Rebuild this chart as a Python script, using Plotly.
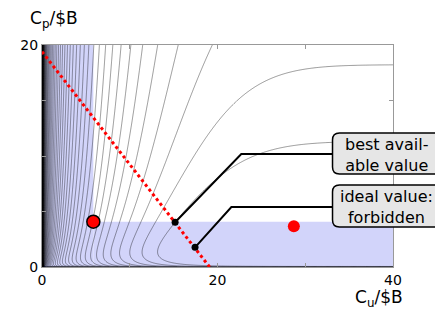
import numpy as np
import plotly.graph_objects as go

# ---------------- values ----------------
forbid_cu_max = 5.85          # Cu below this is forbidden (blue band)
forbid_cp_max = 4.08          # Cp below this is forbidden (blue band)
budget_cu = [0.0, 19.1]       # red dotted line end points
budget_cp = [19.4, 0.0]
corner_cu = [5.85]            # big red circle
corner_cp = [4.08]
red_cu = [28.7]               # small red dot
red_cp = [3.67]
best_cu = [15.17]             # "best available value"
best_cp = [4.03]
ideal_cu = [17.44]            # "ideal value: forbidden"
ideal_cp = [1.77]
x_tick_vals = [0, 10, 20, 30, 40]
x_tick_text = ["0", "", "20", "", "40"]
y_tick_vals = [0, 5, 10, 15, 20]
y_tick_text = ["0", "", "", "", "20"]
callout_text = ["best avail-<br>able value", "ideal value:<br>forbidden"]

# estimated parameters of the contoured surface
sat_scale = 13.7
sat_power = 2.0
near_zero_relief = 0.5
near_zero_scale = 2.5
cp_log_weight = 0.18
cp_decay = 0.285
cp_scale = 2.061
corner_scale = 6.0
level_step = 0.18
n_levels = 80


def surface(cu, cp):
    sig = np.tanh(cu / corner_scale)
    g = np.log(-np.expm1(-(cu / sat_scale) ** sat_power))
    g = g - near_zero_relief * np.log(np.tanh(cu / near_zero_scale))
    return g + cp_log_weight * np.log(cp) - cp_decay * np.log(sig ** 2 + (cp / cp_scale) ** 2)


cu_grid = np.unique(np.concatenate([np.geomspace(0.003, 2, 190), np.linspace(2, 40, 360)]))
cp_grid = np.unique(np.concatenate([np.geomspace(0.002, 1, 140), np.linspace(1, 20, 300)]))
CU, CP = np.meshgrid(cu_grid, cp_grid)
Z = surface(CU, CP)
top_level = float(surface(best_cu[0], best_cp[0]))

# ---------------- layout geometry ----------------
# pixel positions below are measured in the 443x310 reference; the page body
# has an 8px margin, so the figure itself is drawn 8px smaller and offset.
OFF = 8
W, H = 443 - OFF, 310 - OFF
L, R, T, B = 39, 393, 45, 267


def px(xp):
    return (xp - L) / (R - L)


def py(yp):
    return (B - yp) / (B - T)


def dx(xp):
    return (xp - L) / (R - L) * 40.0


def dy(yp):
    return (B - yp) / (B - T) * 20.0


font_family = "DejaVu Sans, Verdana, sans-serif"

fig = go.Figure()

fig.add_trace(go.Contour(
    x=cu_grid, y=cp_grid, z=Z,
    autocontour=False,
    contours=dict(coloring="none", start=top_level - n_levels * level_step,
                  end=top_level + level_step / 2, size=level_step),
    line=dict(color="black", width=0.4, smoothing=0.6),
    showscale=False, hoverinfo="skip",
))

fig.add_trace(go.Scatter(x=budget_cu, y=budget_cp, mode="lines",
                         line=dict(color="red", width=3, dash="3px,3px"),
                         hoverinfo="skip"))
fig.add_trace(go.Scatter(x=corner_cu, y=corner_cp, mode="markers",
                         marker=dict(color="red", size=13, line=dict(color="black", width=1.5))))
fig.add_trace(go.Scatter(x=red_cu, y=red_cp, mode="markers",
                         marker=dict(color="red", size=12, line=dict(width=0))))

shapes = [
    dict(type="rect", xref="x", yref="y", x0=0, x1=forbid_cu_max, y0=0, y1=20,
         fillcolor="rgb(210,212,250)", line=dict(width=0), layer="below"),
    dict(type="rect", xref="x", yref="y", x0=forbid_cu_max, x1=40, y0=0, y1=forbid_cp_max,
         fillcolor="rgb(210,212,250)", line=dict(width=0), layer="below"),
]

# leader lines from the two points to the call-out boxes
box_left = 332
leaders = [((best_cu[0], best_cp[0]), (240, 154)), ((ideal_cu[0], ideal_cp[0]), (230, 207))]
for (xs, ys), (ex, ey) in leaders:
    path = "M %f,%f L %f,%f L %f,%f" % (xs, ys, dx(ex), dy(ey), dx(box_left), dy(ey))
    shapes.append(dict(type="path", xref="x", yref="y", path=path,
                       line=dict(color="black", width=2), layer="above"))


def rounded_box(x0, y0, x1, y1, r):
    pts = [
        ("M", [(x0 + r, y0)]), ("L", [(x1 - r, y0)]), ("Q", [(x1, y0), (x1, y0 + r)]),
        ("L", [(x1, y1 - r)]), ("Q", [(x1, y1), (x1 - r, y1)]), ("L", [(x0 + r, y1)]),
        ("Q", [(x0, y1), (x0, y1 - r)]), ("L", [(x0, y0 + r)]), ("Q", [(x0, y0), (x0 + r, y0)]),
    ]
    s = ""
    for cmd, ps in pts:
        s += cmd + " " + " ".join("%f,%f" % (px(a), py(b)) for a, b in ps) + " "
    return s + "Z"


boxes = [(332, 133, 441.5, 174), (332, 185, 441.5, 227)]
for bx in boxes:
    shapes.append(dict(type="path", xref="paper", yref="paper", path=rounded_box(*bx, 7),
                       fillcolor="rgb(230,230,230)", line=dict(color="black", width=1.5),
                       layer="above"))

annotations = []
for (x0, y0, x1, y1), txt in zip(boxes, callout_text):
    annotations.append(dict(xref="paper", yref="paper", x=px((x0 + x1) / 2), y=py((y0 + y1) / 2 + 1),
                            text=txt, showarrow=False, xanchor="center", yanchor="middle",
                            font=dict(family=font_family, size=16, color="black")))

annotations.append(dict(xref="paper", yref="paper", x=px(51), y=py(19), text="C<sub>p</sub>/$B",
                        showarrow=False, xanchor="center", yanchor="middle",
                        font=dict(family=font_family, size=17, color="black")))
annotations.append(dict(xref="paper", yref="paper", x=px(379), y=py(298), text="C<sub>u</sub>/$B",
                        showarrow=False, xanchor="center", yanchor="middle",
                        font=dict(family=font_family, size=17, color="black")))

fig.add_trace(go.Scatter(x=best_cu + ideal_cu, y=best_cp + ideal_cp, mode="markers",
                         marker=dict(color="black", size=7)))

axis_common = dict(showgrid=False, zeroline=False, showline=True, linecolor="#999999",
                   linewidth=1, mirror="ticks", ticks="inside", ticklen=4, tickcolor="#999999",
                   tickfont=dict(family=font_family, size=14, color="black"))

fig.update_layout(
    width=W, height=H,
    margin=dict(l=L - OFF, r=443 - R, t=T - OFF, b=310 - B, pad=0),
    paper_bgcolor="white", plot_bgcolor="white",
    showlegend=False,
    shapes=shapes, annotations=annotations,
    xaxis=dict(range=[0, 40], tickvals=x_tick_vals, ticktext=x_tick_text, **axis_common),
    yaxis=dict(range=[0, 20], tickvals=y_tick_vals, ticktext=y_tick_text, **axis_common),
)

fig.write_html("out.html")
